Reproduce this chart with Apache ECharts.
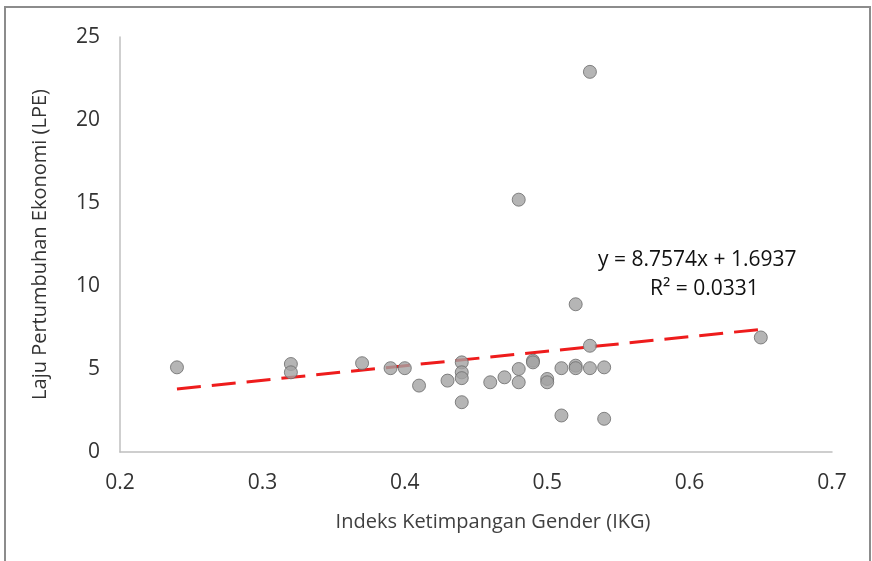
<!DOCTYPE html>
<html>
<head>
<meta charset="utf-8">
<script src="https://cdn.jsdelivr.net/npm/echarts@6/dist/echarts.min.js"></script>
<style>
  html, body { margin: 0; padding: 0; background: #fff; }
  #chart { width: 872px; height: 561px; }
</style>
</head>
<body>
<div id="chart"></div>
<script>
// IKG (x) vs LPE (y)
const ikg = [0.24, 0.32, 0.32, 0.37, 0.39, 0.40, 0.41, 0.43, 0.44, 0.44, 0.44, 0.44,
  0.46, 0.47, 0.48, 0.48, 0.48, 0.49, 0.49, 0.50, 0.50, 0.51, 0.51, 0.52, 0.52, 0.52,
  0.53, 0.53, 0.53, 0.54, 0.54, 0.65];
const lpe = [5.1, 5.3, 4.8, 5.35, 5.05, 5.05, 4.0, 4.3, 5.4, 4.8, 4.45, 3.0,
  4.2, 4.5, 5.0, 4.2, 15.2, 5.5, 5.4, 4.4, 4.2, 5.05, 2.2, 8.9, 5.2, 5.05,
  22.9, 6.4, 5.05, 5.1, 2.0, 6.9];
// Excel linear trendline
const slope = 8.7574;
const intercept = 1.6937;
const trendX = [0.24, 0.65];
const xTicks = { min: 0.2, max: 0.7, step: 0.1 };
const yTicks = { min: 0, max: 25, step: 5 };

const points = ikg.map((x, i) => [x, lpe[i]]);
const trend = trendX.map((x) => [x, slope * x + intercept]);

const chart = echarts.init(document.getElementById("chart"));
const font = "'Open Sans', 'Noto Sans', sans-serif";

chart.setOption({
  animation: false,
  grid: { left: 120, right: 40, top: 37, bottom: 109 },
  xAxis: {
    type: "value",
    min: xTicks.min,
    max: xTicks.max,
    interval: xTicks.step,
    name: "Indeks Ketimpangan Gender (IKG)",
    nameLocation: "middle",
    nameGap: 60,
    nameTextStyle: {
      fontFamily: font, fontSize: 20, color: "#404040",
      padding: [0, 0, 0, 34], // title sits a bit right of centre
    },
    axisLine: { lineStyle: { color: "#bfbfbf", width: 1.5 } },
    axisTick: { show: false },
    splitLine: { show: false },
    axisLabel: {
      fontFamily: font, fontSize: 21, color: "#333", margin: 21,
      formatter: (v) => v.toFixed(1),
    },
  },
  yAxis: {
    type: "value",
    min: yTicks.min,
    max: yTicks.max,
    interval: yTicks.step,
    name: "Laju Pertumbuhan Ekonomi (LPE)",
    nameLocation: "middle",
    nameGap: 70,
    nameTextStyle: { fontFamily: font, fontSize: 20, color: "#333" },
    axisLine: { show: true, lineStyle: { color: "#bfbfbf", width: 1.5 } },
    axisTick: { show: false },
    splitLine: { show: false },
    axisLabel: { fontFamily: font, fontSize: 21, color: "#333", margin: 20 },
  },
  graphic: [
    {
      type: "rect",
      shape: { x: 5, y: 7, width: 865, height: 600 },
      style: { fill: "none", stroke: "#8c8c8c", lineWidth: 2 },
      silent: true,
    },
    {
      type: "text",
      left: 598,
      top: 250,
      style: {
        text: "y = 8.7574x + 1.6937",
        font: "21px " + font,
        fill: "#111",
      },
    },
    {
      type: "text",
      left: 650,
      top: 279,
      style: {
        text: "R² = 0.0331",
        font: "21px " + font,
        fill: "#111",
      },
    },
  ],
  series: [
    {
      type: "line",
      data: trend,
      symbol: "none",
      lineStyle: { color: "#ee1c1c", width: 3, type: [24, 11] },
      z: 1,
    },
    {
      type: "scatter",
      data: points,
      symbolSize: 13,
      itemStyle: { color: "#a3a3a3", borderColor: "#6a6a6a", borderWidth: 1 },
      z: 2,
    },
  ],
});
</script>
</body>
</html>
